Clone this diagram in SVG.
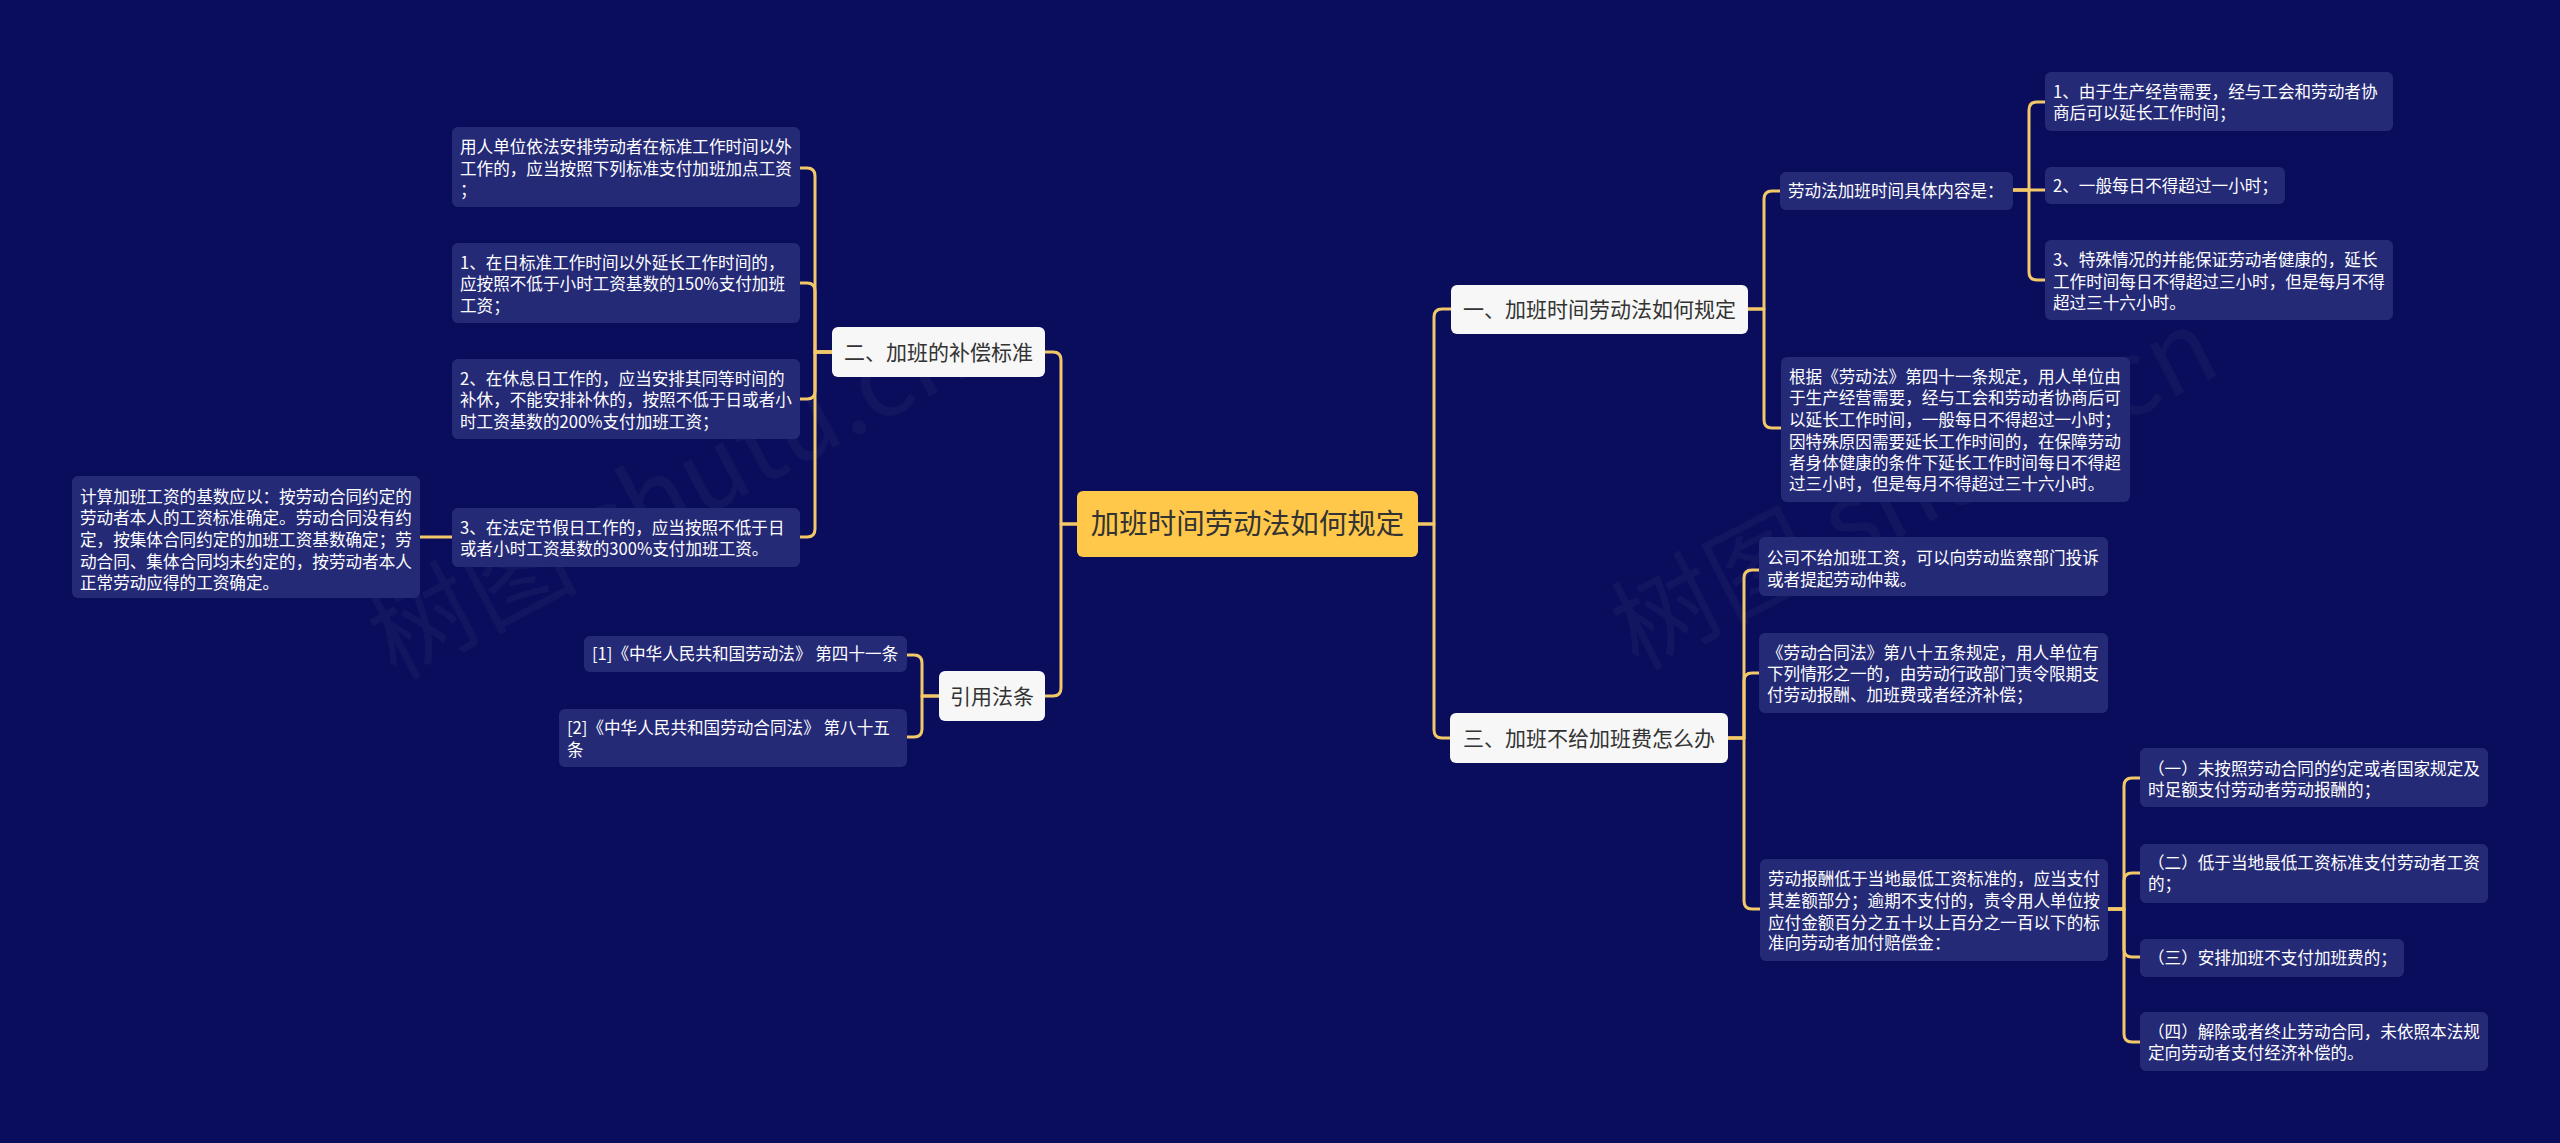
<svg xmlns="http://www.w3.org/2000/svg" width="2560" height="1143" viewBox="0 0 2560 1143">
<style>
.bg{fill:#0a0d5b}
.leaf{fill:#252a77}
.l1{fill:#f7f7f7}
.root{fill:#ffc84a}
.lt{font-family:"Noto Sans CJK SC","Noto Sans",sans-serif;font-size:16.6px;fill:#ffffff}
.t1{font-family:"Noto Sans CJK SC","Noto Sans",sans-serif;font-size:21px;fill:#333333}
.rt{font-family:"Noto Sans CJK SC","Noto Sans",sans-serif;font-size:28.5px;fill:#333333}
.wm{font-family:"Noto Sans CJK SC","Noto Sans",sans-serif;font-size:105px;fill:#ffffff;fill-opacity:0.035}
.c{fill:none;stroke:#f3c868;stroke-width:3;stroke-linecap:round;stroke-linejoin:round}
</style>
<rect class="bg" x="0" y="0" width="2560" height="1143"/>
<g id="watermarks">
<text class="wm" x="670" y="530" text-anchor="middle" transform="rotate(-28 670 495)">树图 shutu.cn</text>
<text class="wm" x="1915" y="525" text-anchor="middle" transform="rotate(-27 1915 490)">树图 shutu.cn</text>
</g>
<g id="connectors">
<path class="c" d="M1418,524 H1434 V317 Q1434,309 1442,309 H1451"/>
<path class="c" d="M1418,524 H1434 V730 Q1434,738 1442,738 H1450"/>
<path class="c" d="M1077,524 H1061 V360 Q1061,352 1053,352 H1045"/>
<path class="c" d="M1077,524 H1061 V688 Q1061,696 1053,696 H1045"/>
<path class="c" d="M832,352 H815 V176 Q815,168 807,168 H800"/>
<path class="c" d="M832,352 H815 V291 Q815,283 807,283 H800"/>
<path class="c" d="M832,352 H815 V391 Q815,399 807,399 H800"/>
<path class="c" d="M832,352 H815 V529 Q815,537 807,537 H800"/>
<path class="c" d="M452,537 H420"/>
<path class="c" d="M939,696 H922 V663 Q922,655 914,655 H907"/>
<path class="c" d="M939,696 H922 V729 Q922,737 914,737 H907"/>
<path class="c" d="M1748,309 H1764 V199 Q1764,191 1772,191 H1780"/>
<path class="c" d="M1748,309 H1764 V420 Q1764,428 1772,428 H1781"/>
<path class="c" d="M2013,190 H2029 V110 Q2029,102 2037,102 H2045"/>
<path class="c" d="M2013,190 H2045"/>
<path class="c" d="M2013,190 H2029 V272 Q2029,280 2037,280 H2045"/>
<path class="c" d="M1728,738 H1744 V578 Q1744,570 1752,570 H1759"/>
<path class="c" d="M1728,738 H1744 V681 Q1744,673 1752,673 H1759"/>
<path class="c" d="M1728,738 H1744 V901 Q1744,909 1752,909 H1760"/>
<path class="c" d="M2107,909 H2124 V786 Q2124,778 2132,778 H2140"/>
<path class="c" d="M2107,909 H2124 V881 Q2124,873 2132,873 H2140"/>
<path class="c" d="M2107,909 H2124 V949 Q2124,957 2132,957 H2140"/>
<path class="c" d="M2107,909 H2124 V1034 Q2124,1042 2132,1042 H2140"/>
</g>
<g id="root">
<rect class="root" x="1077" y="491" width="341" height="66" rx="6"/>
<text class="rt" x="1247.5" y="534" text-anchor="middle">加班时间劳动法如何规定</text>
</g>
<g id="n1">
<rect class="l1" x="1451" y="285" width="297" height="49" rx="6"/>
<text class="t1" x="1599.5" y="317" text-anchor="middle">一、加班时间劳动法如何规定</text>
</g>
<g id="n2">
<rect class="l1" x="832" y="327" width="213" height="50" rx="6"/>
<text class="t1" x="938.5" y="359.5" text-anchor="middle">二、加班的补偿标准</text>
</g>
<g id="n3">
<rect class="l1" x="1450" y="713" width="278" height="50" rx="6"/>
<text class="t1" x="1589" y="745.5" text-anchor="middle">三、加班不给加班费怎么办</text>
</g>
<g id="n4">
<rect class="l1" x="939" y="671" width="106" height="50" rx="6"/>
<text class="t1" x="992" y="703.5" text-anchor="middle">引用法条</text>
</g>
<g id="n2a">
<rect class="leaf" x="452" y="127" width="348" height="80" rx="6"/>
<text class="lt" x="460" y="153">用人单位依法安排劳动者在标准工作时间以外</text>
<text class="lt" x="460" y="174.7">工作的，应当按照下列标准支付加班加点工资</text>
<text class="lt" x="460" y="196.3">；</text>
</g>
<g id="n2b">
<rect class="leaf" x="452" y="243" width="348" height="80" rx="6"/>
<text class="lt" x="460" y="269.3">1、在日标准工作时间以外延长工作时间的，</text>
<text class="lt" x="460" y="290">应按照不低于小时工资基数的150%支付加班</text>
<text class="lt" x="460" y="312">工资；</text>
</g>
<g id="n2c">
<rect class="leaf" x="452" y="359" width="348" height="80" rx="6"/>
<text class="lt" x="460" y="385.3">2、在休息日工作的，应当安排其同等时间的</text>
<text class="lt" x="460" y="406">补休，不能安排补休的，按照不低于日或者小</text>
<text class="lt" x="460" y="427.7">时工资基数的200%支付加班工资；</text>
</g>
<g id="n2d">
<rect class="leaf" x="452" y="508" width="348" height="59" rx="6"/>
<text class="lt" x="460" y="534.3">3、在法定节假日工作的，应当按照不低于日</text>
<text class="lt" x="460" y="555.3">或者小时工资基数的300%支付加班工资。</text>
</g>
<g id="n2d1">
<rect class="leaf" x="72" y="476" width="348" height="122" rx="6"/>
<text class="lt" x="80" y="502.7">计算加班工资的基数应以：按劳动合同约定的</text>
<text class="lt" x="80" y="524.3">劳动者本人的工资标准确定。劳动合同没有约</text>
<text class="lt" x="80" y="546">定，按集体合同约定的加班工资基数确定；劳</text>
<text class="lt" x="80" y="567.7">动合同、集体合同均未约定的，按劳动者本人</text>
<text class="lt" x="80" y="589">正常劳动应得的工资确定。</text>
</g>
<g id="n4a">
<rect class="leaf" x="584" y="636" width="323" height="36" rx="6"/>
<text class="lt" x="592" y="660">[1]《中华人民共和国劳动法》 第四十一条</text>
</g>
<g id="n4b">
<rect class="leaf" x="559" y="709" width="348" height="58" rx="6"/>
<text class="lt" x="567" y="734.3">[2]《中华人民共和国劳动合同法》 第八十五</text>
<text class="lt" x="567" y="756">条</text>
</g>
<g id="n1a">
<rect class="leaf" x="1780" y="172" width="233" height="38" rx="6"/>
<text class="lt" x="1788" y="197">劳动法加班时间具体内容是：</text>
</g>
<g id="n1b">
<rect class="leaf" x="1781" y="357" width="349" height="145" rx="6"/>
<text class="lt" x="1789" y="382.7">根据《劳动法》第四十一条规定，用人单位由</text>
<text class="lt" x="1789" y="404.3">于生产经营需要，经与工会和劳动者协商后可</text>
<text class="lt" x="1789" y="426">以延长工作时间，一般每日不得超过一小时；</text>
<text class="lt" x="1789" y="447.7">因特殊原因需要延长工作时间的，在保障劳动</text>
<text class="lt" x="1789" y="469.3">者身体健康的条件下延长工作时间每日不得超</text>
<text class="lt" x="1789" y="490">过三小时，但是每月不得超过三十六小时。</text>
</g>
<g id="n1a1">
<rect class="leaf" x="2045" y="72" width="348" height="59" rx="6"/>
<text class="lt" x="2053" y="98">1、由于生产经营需要，经与工会和劳动者协</text>
<text class="lt" x="2053" y="119">商后可以延长工作时间；</text>
</g>
<g id="n1a2">
<rect class="leaf" x="2045" y="167" width="240" height="37" rx="6"/>
<text class="lt" x="2053" y="192">2、一般每日不得超过一小时；</text>
</g>
<g id="n1a3">
<rect class="leaf" x="2045" y="240" width="348" height="80" rx="6"/>
<text class="lt" x="2053" y="266">3、特殊情况的并能保证劳动者健康的，延长</text>
<text class="lt" x="2053" y="287.7">工作时间每日不得超过三小时，但是每月不得</text>
<text class="lt" x="2053" y="308.7">超过三十六小时。</text>
</g>
<g id="n3a">
<rect class="leaf" x="1759" y="537" width="349" height="59" rx="6"/>
<text class="lt" x="1767" y="564.3">公司不给加班工资，可以向劳动监察部门投诉</text>
<text class="lt" x="1767" y="586">或者提起劳动仲裁。</text>
</g>
<g id="n3b">
<rect class="leaf" x="1759" y="633" width="349" height="80" rx="6"/>
<text class="lt" x="1767" y="659.3">《劳动合同法》第八十五条规定，用人单位有</text>
<text class="lt" x="1767" y="680">下列情形之一的，由劳动行政部门责令限期支</text>
<text class="lt" x="1767" y="701">付劳动报酬、加班费或者经济补偿；</text>
</g>
<g id="n3c">
<rect class="leaf" x="1760" y="859" width="348" height="102" rx="6"/>
<text class="lt" x="1768" y="885.3">劳动报酬低于当地最低工资标准的，应当支付</text>
<text class="lt" x="1768" y="906.7">其差额部分；逾期不支付的，责令用人单位按</text>
<text class="lt" x="1768" y="928.7">应付金额百分之五十以上百分之一百以下的标</text>
<text class="lt" x="1768" y="949.3">准向劳动者加付赔偿金：</text>
</g>
<g id="n3c1">
<rect class="leaf" x="2140" y="748" width="348" height="59" rx="6"/>
<text class="lt" x="2148" y="775.3">（一）未按照劳动合同的约定或者国家规定及</text>
<text class="lt" x="2148" y="796">时足额支付劳动者劳动报酬的；</text>
</g>
<g id="n3c2">
<rect class="leaf" x="2140" y="844" width="348" height="59" rx="6"/>
<text class="lt" x="2148" y="869.3">（二）低于当地最低工资标准支付劳动者工资</text>
<text class="lt" x="2148" y="890">的；</text>
</g>
<g id="n3c3">
<rect class="leaf" x="2140" y="939" width="264" height="38" rx="6"/>
<text class="lt" x="2148" y="964.3">（三）安排加班不支付加班费的；</text>
</g>
<g id="n3c4">
<rect class="leaf" x="2140" y="1012" width="348" height="59" rx="6"/>
<text class="lt" x="2148" y="1037.7">（四）解除或者终止劳动合同，未依照本法规</text>
<text class="lt" x="2148" y="1059.3">定向劳动者支付经济补偿的。</text>
</g>
</svg>
